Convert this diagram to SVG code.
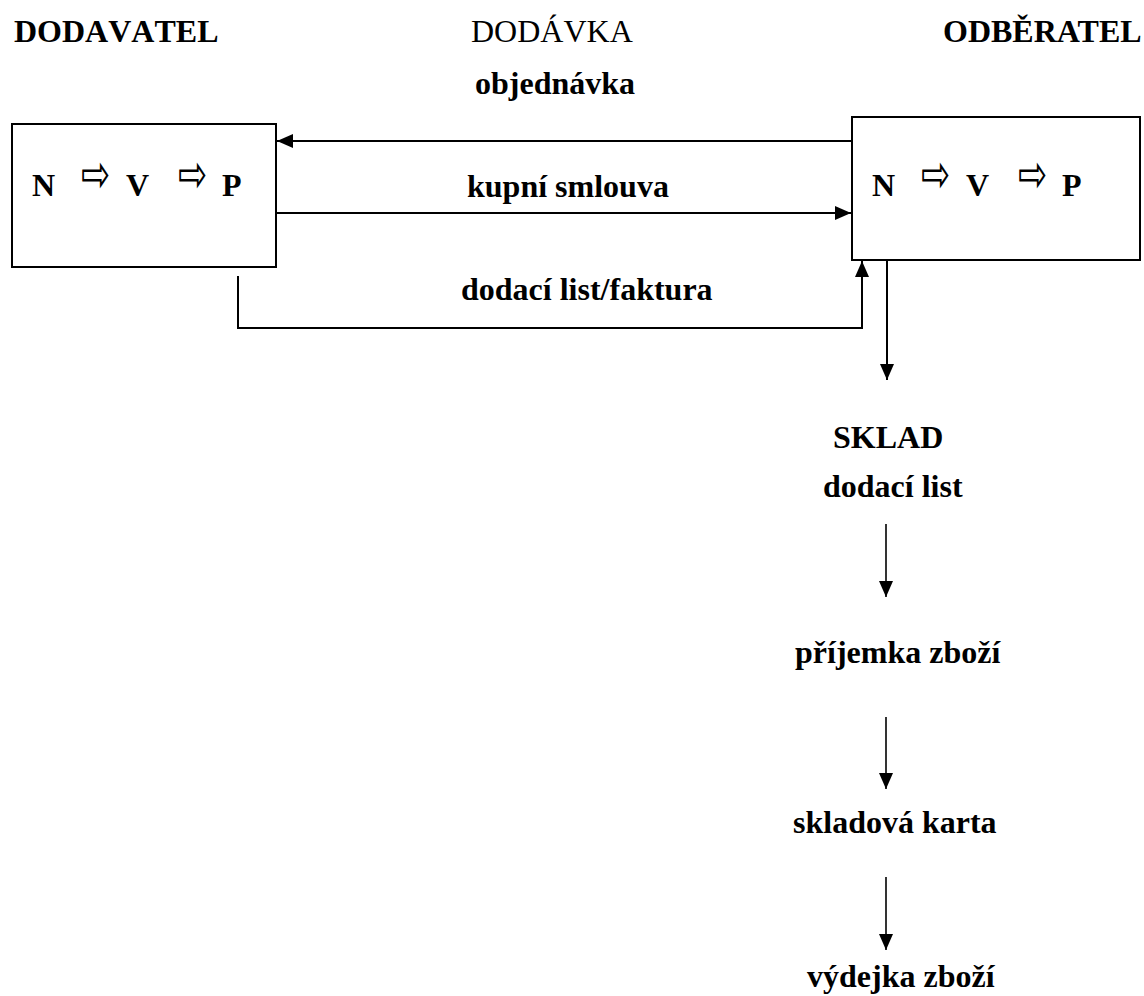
<svg xmlns="http://www.w3.org/2000/svg" width="1144" height="996" viewBox="0 0 1144 996">
<style>
text{font-family:"Liberation Serif","Times New Roman",serif;font-size:32px;fill:#000}
.b{font-weight:bold}
.nk{font-kerning:none}
.sym{font-family:"DejaVu Sans",sans-serif;font-size:30px;font-weight:normal}
.box{fill:#fff;stroke:#000;stroke-width:2}
.ln{fill:none;stroke:#000;stroke-width:2}
.ln2{fill:none;stroke:#000;stroke-width:1.6}
</style>
<defs>
<marker id="ah" markerUnits="userSpaceOnUse" markerWidth="16" markerHeight="14" refX="16" refY="7" orient="auto">
<path d="M0,0 L16,7 L0,14 Z" fill="#000"/>
</marker>
</defs>
<rect width="1144" height="996" fill="#fff"/>
<g id="headers">
<text class="b nk" x="14" y="42">DODAVATEL</text>
<text x="471" y="42">DODÁVKA</text>
<text class="b" x="943" y="42">ODBĚRATEL</text>
</g>
<g id="dodavatel">
<rect class="box" x="12" y="124" width="264" height="143"/>
<text class="b" x="32" y="196">N</text>
<text class="sym" transform="translate(81,192) scale(1.16,1.75)">⇨</text>
<text class="b" x="126" y="196">V</text>
<text class="sym" transform="translate(178,192) scale(1.16,1.75)">⇨</text>
<text class="b" x="222" y="196">P</text>
</g>
<g id="odberatel">
<rect class="box" x="852" y="117" width="288" height="143"/>
<text class="b" x="872" y="196">N</text>
<text class="sym" transform="translate(921,192) scale(1.16,1.75)">⇨</text>
<text class="b" x="966" y="196">V</text>
<text class="sym" transform="translate(1018,192) scale(1.16,1.75)">⇨</text>
<text class="b" x="1062" y="196">P</text>
</g>
<g id="labels">
<text class="b" x="475" y="94">objednávka</text>
<text class="b" x="467" y="197">kupní smlouva</text>
<text class="b" x="461" y="300">dodací list/faktura</text>
</g>
<g id="sklad">
<text class="b" x="833" y="448">SKLAD</text>
<text class="b" x="823" y="497">dodací list</text>
</g>
<g id="prijemka"><text class="b" x="795" y="663">příjemka zboží</text></g>
<g id="karta"><text class="b" x="793" y="833">skladová karta</text></g>
<g id="vydejka"><text class="b" x="807" y="987">výdejka zboží</text></g>
<g id="connectors">
<line class="ln" x1="852" y1="141" x2="277" y2="141" marker-end="url(#ah)"/>
<line class="ln" x1="276" y1="213" x2="851" y2="213" marker-end="url(#ah)"/>
<polyline class="ln" points="238,276 238,328 862,328 862,261" marker-end="url(#ah)"/>
<line class="ln" x1="887" y1="261" x2="887" y2="380" marker-end="url(#ah)"/>
<line class="ln2" x1="886" y1="524" x2="886" y2="597" marker-end="url(#ah)"/>
<line class="ln2" x1="886" y1="717" x2="886" y2="789" marker-end="url(#ah)"/>
<line class="ln2" x1="886" y1="877" x2="886" y2="950" marker-end="url(#ah)"/>
</g>
</svg>
